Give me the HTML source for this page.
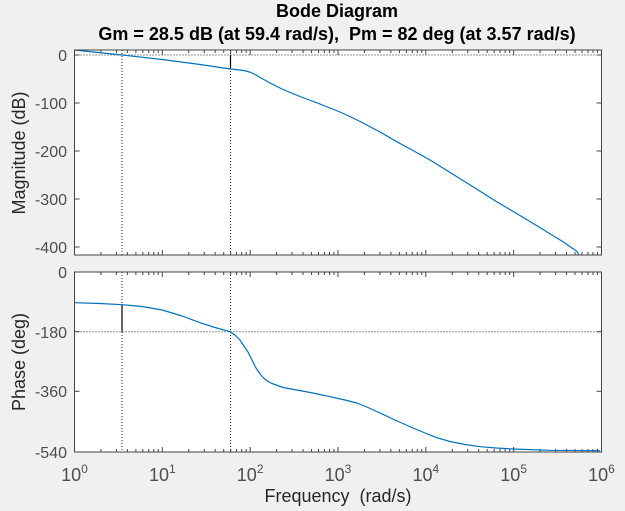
<!DOCTYPE html>
<html><head><meta charset="utf-8"><style>
html,body{margin:0;padding:0;background:#f0f0f0;}
svg{display:block;font-family:"Liberation Sans",Arial,sans-serif;}
</style></head><body>
<svg id="s" width="625" height="511" viewBox="0 0 625 511" xmlns="http://www.w3.org/2000/svg">
<rect x="0" y="0" width="625" height="511" fill="#f0f0f0"/>
<rect x="74.5" y="50" width="527" height="205" fill="#fff"/>
<rect x="74.5" y="272" width="527" height="180" fill="#fff"/>
<g id="grid" stroke="#262626" stroke-width="1" stroke-dasharray="1,2" fill="none">
<line x1="74.5" y1="55" x2="601.5" y2="55"/>
<line x1="122" y1="50" x2="122" y2="255"/>
<line x1="230.5" y1="50" x2="230.5" y2="255"/>
<line x1="74.5" y1="331.7" x2="601.5" y2="331.7"/>
<line x1="122" y1="272" x2="122" y2="452"/>
<line x1="230.5" y1="272" x2="230.5" y2="452"/>
</g>
<g id="ticks" stroke="#444" stroke-width="1" fill="none"></g>
<g stroke="#000" stroke-width="1.2">
<line x1="230.5" y1="55" x2="230.5" y2="69"/>
<line x1="122" y1="304.5" x2="122" y2="331.7"/>
</g>
<polyline fill="none" stroke="#0072bd" stroke-width="1.2" stroke-linejoin="round" points="74.5,50 122,55 162,59.5 200,64.5 230.5,69 240,70 246,71 251,72.5 256,75 262,78.5 270,83 283,89.5 300,96.5 320,104 338.7,111.5 350,116.5 363,123 380,132 396.7,141.7 413,150.5 430,160 463,180.5 496.7,201.7 530,221.5 563,241.7 577,251.5 579,255"/>
<polyline fill="none" stroke="#0072bd" stroke-width="1.2" stroke-linejoin="round" points="74.5,302.7 100,303.5 122,304.7 142,306.5 162.3,310 182,316 200,322.7 215,327.5 230,331.7 235,335 240,340 244,346 248,352 252,360 256,368 260,374 264,378.5 268,381.5 272,383.5 283,387.5 296.7,390 313,393 330,396.7 345,400 356.7,403 368,407.5 380,413 396,420.5 413,428 425,433 436.7,437.7 450,441.5 465,444.5 480,446.7 496,448 513,449 550,450.3 600,450.7"/>
<rect x="74.5" y="50" width="527" height="205" fill="none" stroke="#444" stroke-width="1"/>
<rect x="74.5" y="272" width="527" height="180" fill="none" stroke="#444" stroke-width="1"/>
<g fill="#4d4d4d" font-size="16" text-anchor="end">
<text x="67" y="61">0</text>
<text x="67" y="109">-100</text>
<text x="67" y="157">-200</text>
<text x="67" y="205">-300</text>
<text x="67" y="253">-400</text>
<text x="67" y="278">0</text>
<text x="67" y="338">-180</text>
<text x="67" y="397">-360</text>
<text x="67" y="458">-540</text>
</g>
<g fill="#4d4d4d" font-size="18" text-anchor="middle" id="xl"></g>
<g fill="#000" font-size="18" font-weight="bold" text-anchor="middle">
<text x="337" y="17">Bode Diagram</text>
<text x="337" y="40" xml:space="preserve">Gm = 28.5 dB (at 59.4 rad/s),  Pm = 82 deg (at 3.57 rad/s)</text>
</g>
<g fill="#262626" font-size="18" text-anchor="middle">
<text x="338" y="502" xml:space="preserve">Frequency  (rad/s)</text>
<text transform="translate(25,153) rotate(-90)">Magnitude (dB)</text>
<text transform="translate(25,362) rotate(-90)">Phase (deg)</text>
</g>
</svg>
<script>
var ns="http://www.w3.org/2000/svg",t=document.getElementById("ticks"),xl=document.getElementById("xl");
function L(a,b,c,d){var l=document.createElementNS(ns,"line");l.setAttribute("x1",a);l.setAttribute("y1",b);l.setAttribute("x2",c);l.setAttribute("y2",d);t.appendChild(l);}
var x0=74.5,dw=87.83;
for(var d=0;d<6;d++){for(var k=1;k<10;k++){var x=x0+dw*(d+Math.log10(k));var len=(k==1)?5:3;
[[50,255],[272,452]].forEach(function(p){L(x,p[0],x,p[0]+len);L(x,p[1],x,p[1]-len);});}}
[55,103,151,199,247].forEach(function(y){L(74.5,y,79.5,y);L(601.5,y,596.5,y);});
[272,331.7,391.3,452].forEach(function(y){L(74.5,y,79.5,y);L(601.5,y,596.5,y);});
for(var d=0;d<=6;d++){var x=x0+dw*d;var tx=document.createElementNS(ns,"text");tx.setAttribute("x",x);tx.setAttribute("y",481);
tx.innerHTML='10<tspan font-size="12" dy="-8">'+d+'</tspan>';xl.appendChild(tx);}
</script>
</body></html>
